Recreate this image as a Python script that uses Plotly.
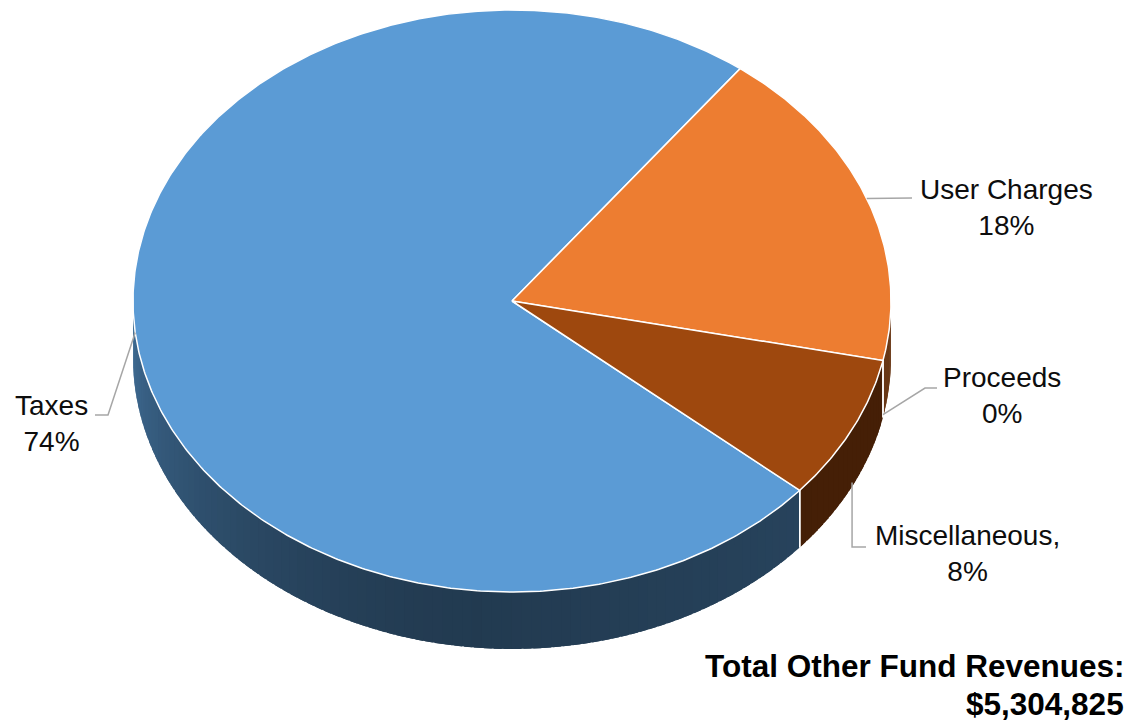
import numpy as np
import plotly.graph_objects as go

# Other fund revenues by source (percent of total)
categories = ["Taxes", "User Charges", "Proceeds", "Miscellaneous"]
shares = [74, 18, 0, 8]
label_sep = ["", "", "", ","]
top_colors = ["#5B9BD5", "#ED7D31", "#C55A11", "#9E480E"]
total_revenue = 5304825

# Canvas and tilted-disc geometry (pixel units)
W, H = 1139, 721
CX, CY, RX, RY, DEPTH = 512, 301, 379, 291, 57
START = 130.6          # first slice angle, degrees clockwise from 12 o'clock
STEP = 1.5             # angular step of the shaded side strips

FONT = "Arial, Liberation Sans, sans-serif"
LEADER = "#A6A6A6"


def pt(t, drop=0.0):
    r = np.radians(t)
    return CX + RX * np.sin(r), CY - RY * np.cos(r) + drop


def hex_rgb(h):
    h = h.lstrip("#")
    return [int(h[i:i + 2], 16) for i in (0, 2, 4)]


def side_shade(t):
    """Brightness factor of the rim wall, lighter toward the left."""
    t = t % 360
    m = 0.38 + 0.32 * np.clip((t - 185) / 85, 0, 1) ** 1.6
    m += 0.06 * np.clip((185 - t) / 60, 0, 1)
    return m


def shade(hexcol, m):
    r, g, b = hex_rgb(hexcol)
    return f"rgb({int(r * m)},{int(g * m)},{int(b * m)})"


total = sum(shares)
spans = [360.0 * s / total for s in shares]
starts = list(START + np.concatenate([[0], np.cumsum(spans)[:-1]]))
ends = [a + s for a, s in zip(starts, spans)]

fig = go.Figure()

# --- rim wall (front half of the cylinder), drawn as overlapping strips ---
edges = []
for cat, a0, a1, col in zip(categories, starts, ends, top_colors):
    if a1 <= a0:
        continue
    for lo, hi in ((90, 270), (450, 630)):
        u0, u1 = max(a0, lo), min(a1, hi)
        if u1 <= u0:
            continue
        n = max(1, int(np.ceil((u1 - u0) / STEP)))
        cuts = np.linspace(u0, u1, n + 1)
        for i, (p, q) in enumerate(zip(cuts[:-1], cuts[1:])):
            q_ext = q if i == n - 1 else min(u1, q + 0.8 * (q - p))
            ts = np.linspace(p, q_ext, 6)
            xs_top, ys_top = pt(ts)
            xs_bot, ys_bot = pt(ts[::-1], DEPTH)
            c = shade(col, side_shade((p + q) / 2))
            fig.add_trace(go.Scatter(
                x=np.concatenate([xs_top, xs_bot]),
                y=np.concatenate([ys_top, ys_bot]),
                mode="lines", fill="toself", fillcolor=c,
                line=dict(width=0),
                hoverinfo="skip", showlegend=False))
    for b in (a0, a1):
        if 90 < (b % 360) < 270:
            edges.append(b)

# white seams where slices meet on the wall
for b in edges:
    x0, y0 = pt(b)
    x1, y1 = pt(b, DEPTH)
    fig.add_trace(go.Scatter(x=[x0, x1], y=[y0, y1], mode="lines",
                             line=dict(color="white", width=1.5),
                             hoverinfo="skip", showlegend=False))

# --- top face slices ---
for cat, a0, a1, col in zip(categories, starts, ends, top_colors):
    if a1 <= a0:
        continue
    ts = np.linspace(a0, a1, max(4, int((a1 - a0) * 2)))
    xs, ys = pt(ts)
    fig.add_trace(go.Scatter(
        x=np.concatenate([[CX], xs, [CX]]),
        y=np.concatenate([[CY], ys, [CY]]),
        mode="lines", fill="toself", fillcolor=col,
        line=dict(color="white", width=1.5),
        name=cat, hoverinfo="name", showlegend=False))

# --- data labels with leader lines ---
# anchor: which angle of the slice, and how far down the wall the line starts
label_layout = {
    "Taxes":         dict(anchor="mid",   drop=0,  path=[(108, 415), (95, 415)],  text=(51, 423)),
    "User Charges":  dict(anchor="mid",   drop=0,  path=[(912, 198)],             text=(1006, 207)),
    "Proceeds":      dict(anchor="start", drop=54, path=[(925, 388), (937, 388)], text=(1002, 395)),
    "Miscellaneous": dict(anchor="mid",   drop=53, path=[(None, 547), (866, 547)], text=(967, 553)),
}

for cat, share, sep, a0, a1 in zip(categories, shares, label_sep, starts, ends):
    cfg = label_layout[cat]
    ang = (a0 + a1) / 2 if cfg["anchor"] == "mid" else a0
    ax, ay = pt(ang, cfg["drop"])
    px, py = [float(ax)], [float(ay)]
    for qx, qy in cfg["path"]:
        px.append(float(ax) if qx is None else qx)
        py.append(qy)
    fig.add_trace(go.Scatter(x=px, y=py, mode="lines",
                             line=dict(color=LEADER, width=1.5),
                             hoverinfo="skip", showlegend=False))
    tx, ty = cfg["text"]
    fig.add_annotation(x=tx, y=ty, xref="x", yref="y",
                       text=f"{cat}{sep}<br>{share:.0f}%",
                       showarrow=False, xanchor="center", yanchor="middle",
                       align="center",
                       font=dict(family=FONT, size=28, color="#0D0D0D"))

# total caption, right-aligned in two lines
total_lines = ["Total Other Fund Revenues:", f"${total_revenue:,.0f}"]
for line, y in zip(total_lines, (666, 704)):
    fig.add_annotation(x=1126, y=y, xref="x", yref="y",
                       text=f"<b>{line}</b>",
                       showarrow=False, xanchor="right", yanchor="middle",
                       align="right",
                       font=dict(family=FONT, size=31.5, color="#000000"))

fig.update_xaxes(range=[0, W], visible=False, fixedrange=True)
fig.update_yaxes(range=[H, 0], visible=False, fixedrange=True)
fig.update_layout(width=W, height=H, autosize=False,
                  margin=dict(l=0, r=0, t=0, b=0, pad=0),
                  paper_bgcolor="white", plot_bgcolor="white",
                  showlegend=False)

fig.write_html("out.html", config={"displayModeBar": False})
